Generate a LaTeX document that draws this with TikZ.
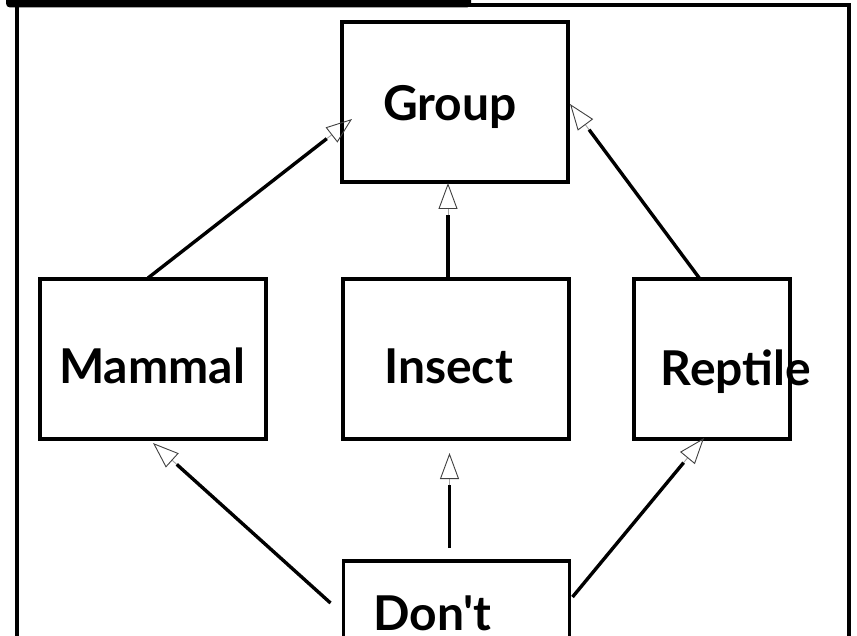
\documentclass[tikz,border=0pt]{standalone}
\usepackage{fontspec}
\newfontfamily\latofont{Lato}
\usetikzlibrary{arrows.meta}
\tikzset{
  kind/.style={draw=black,line width=3.4pt,minimum width=226pt,minimum height=160pt,
               inner sep=0pt,outer sep=0pt},
  kindtxt/.style={font=\latofont\bfseries\fontsize{48}{58}\selectfont,inner sep=0pt,
                  text height=34pt,text depth=0pt},
  isa/.style={line width=3.4pt,draw=black,shorten >=32pt,
              preaction={draw=black!35,line width=0.9pt,shorten >=0pt,
                         -{Triangle[open,length=26pt,width=19pt,color=black!75]}}},
}
\begin{document}
\begin{tikzpicture}[x=1pt,y=-1pt]
  \useasboundingbox (0,0) rectangle (857,636);
  % frame and its tab
  \draw[line width=3.4pt] (17,700) -- (17,5) -- (849,5) -- (849,700);
  \fill[rounded corners=4pt] (6,-10) rectangle (471,7.5);
  % kinds
  \node[kind,label={[kindtxt,shift={(-5,2)}]center:Group}]       (grp) at (455,102) {};
  \node[kind,label={[kindtxt,shift={(-1,7)}]center:Mammal}]      (mam) at (153,359) {};
  \node[kind,label={[kindtxt,shift={(-7.5,8)}]center:Insect}]    (ins) at (456,359) {};
  \node[kind,minimum width=156pt,
        label={[kindtxt,shift={(24,9)}]center:Reptile}]          (rep) at (712,359) {};
  \node[kind,label={[kindtxt,shift={(-24,-27.5)}]center:Don't}]  (dnt) at (456.5,641) {};
  % is-a links
  \draw[isa] ([shift={(-5,-1)}]mam.north) -- ([shift={(10,17)}]grp.west);
  \draw[isa] ([shift={(-8,0)}]ins.north)  -- ([shift={(-7,1)}]grp.south);
  \draw[isa] ([shift={(-12,0)}]rep.north) -- ([shift={(2,2)}]grp.east);
  \draw[isa] ([shift={(-13,42)}]dnt.north west) -- ([shift={(0,4)}]mam.south);
  \draw[isa] ([shift={(-7,-13)}]dnt.north) -- ([shift={(-6.5,14)}]ins.south);
  \draw[isa] ([shift={(3,36)}]dnt.north east) -- ([shift={(-8,-1)}]rep.south);
\end{tikzpicture}
\end{document}
